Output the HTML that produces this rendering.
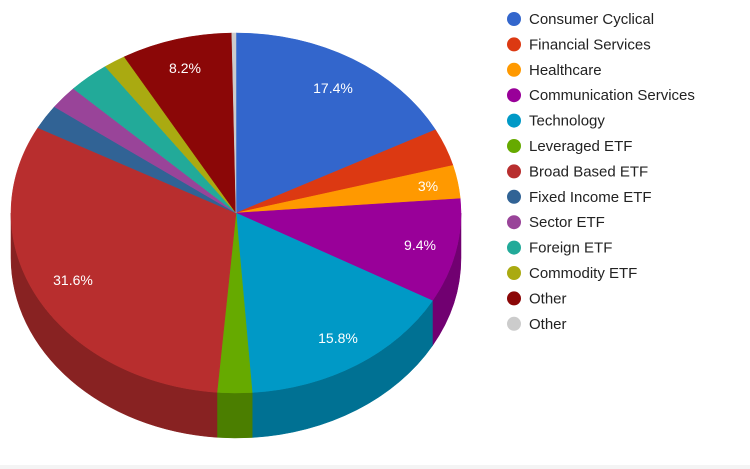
<!DOCTYPE html>
<html><head><style>
html,body{margin:0;padding:0;background:#fff;width:750px;height:469px;overflow:hidden;font-family:"Liberation Sans",Arial,sans-serif}
</style></head><body>
<svg id="s" width="750" height="469" xmlns="http://www.w3.org/2000/svg">
<rect x="0" y="465" width="750" height="4" fill="#f4f4f4"/>
</svg>
<script>
var S=document.getElementById('s'),NS='http://www.w3.org/2000/svg';
var data=[["Consumer Cyclical",17.4,"#3366cc"],["Financial Services",3.4,"#dc3912"],["Healthcare",3,"#ff9900"],["Communication Services",9.4,"#990099"],["Technology",15.8,"#0099c6"],["Leveraged ETF",2.5,"#66aa00"],["Broad Based ETF",31.6,"#b82e2e"],["Fixed Income ETF",2.2,"#316395"],["Sector ETF",2.1,"#994499"],["Foreign ETF",3,"#22aa99"],["Commodity ETF",1.6,"#aaaa11"],["Other",8.0,"#8b0707"],["Other",0.3,"#cccccc"]];
var cx=236,cy=213,rx=225,ry=180,d=45,tot=0;data.forEach(function(a){tot+=a[1]});
function P(t,dy){return [cx+rx*Math.sin(t),cy-ry*Math.cos(t)+(dy||0)]}
function el(n,at){var e=document.createElementNS(NS,n);for(var k in at)e.setAttribute(k,at[k]);S.appendChild(e);return e}
function dark(c){var n=parseInt(c.slice(1),16),r=n>>16,g=n>>8&255,b=n&255;return 'rgb('+[r,g,b].map(function(v){return Math.round(v*0.74)}).join(',')+')'}
var a=0,sl=[];data.forEach(function(x){var s=a,e=a+x[1]/tot*2*Math.PI;sl.push([s,e,x[2]]);a=e});
sl.forEach(function(q){var s=Math.max(q[0],Math.PI/2),e=Math.min(q[1],1.5*Math.PI);if(e<=s)return;
var p1=P(s),p2=P(e),p3=P(e,d),p4=P(s,d),lg=(e-s)>Math.PI?1:0;
el('path',{d:'M'+p1+'A'+rx+','+ry+' 0 '+lg+' 1 '+p2+'L'+p3+'A'+rx+','+ry+' 0 '+lg+' 0 '+p4+'Z',fill:dark(q[2]),stroke:dark(q[2]),'stroke-width':0.5})});
sl.forEach(function(q){var p1=P(q[0]),p2=P(q[1]),lg=(q[1]-q[0])>Math.PI?1:0;
el('path',{d:'M'+cx+','+cy+'L'+p1+'A'+rx+','+ry+' 0 '+lg+' 1 '+p2+'Z',fill:q[2],stroke:q[2],'stroke-width':0.5})});
[["17.4%",333,93],["3%",428,191],["9.4%",420,250],["15.8%",338,343],["31.6%",73,285],["8.2%",185,73]].forEach(function(l){var t=el('text',{x:l[1],y:l[2],fill:'#fff','font-size':14,'text-anchor':'middle','font-family':'Liberation Sans, Arial, sans-serif'});t.textContent=l[0]});
data.forEach(function(x,i){var y=19+i*25.4;el('circle',{cx:514,cy:y,r:7,fill:x[2]});var t=el('text',{x:529,y:y+5,fill:'#222','font-size':15,'font-family':'Liberation Sans, Arial, sans-serif'});t.textContent=x[0]});
</script>
</body></html>
